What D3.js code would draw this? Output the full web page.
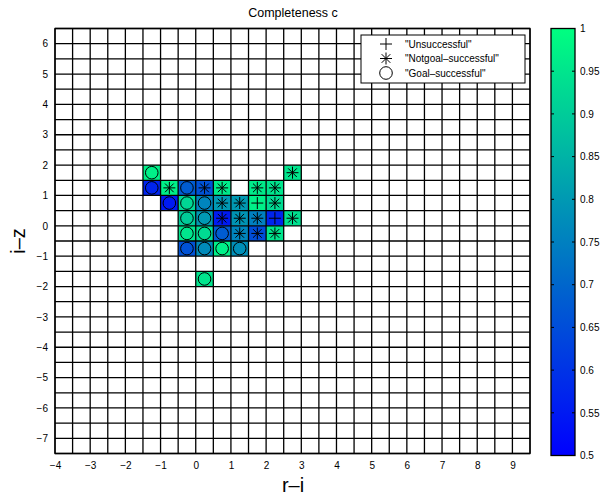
<!DOCTYPE html>
<html>
<head>
<meta charset="utf-8">
<script src="https://cdn.jsdelivr.net/npm/d3@7"></script>
<style>
body{margin:0;background:#fff;}
text{font-family:"Liberation Sans",Arial,Helvetica,sans-serif;}
</style>
</head>
<body>
<svg id="chart" width="613" height="499"></svg>
<script>
// ---- data ----
const cellX = [-1.25, 2.75,
  -1.25, -0.75, -0.25, 0.25, 0.75, 1.75, 2.25,
  -0.75, -0.25, 0.25, 0.75, 1.25, 1.75, 2.25,
  -0.25, 0.25, 0.75, 1.25, 1.75, 2.25, 2.75,
  -0.25, 0.25, 0.75, 1.25, 1.75, 2.25,
  -0.25, 0.25, 0.75, 1.25,
  0.25];
const cellY = [1.75, 1.75,
  1.25, 1.25, 1.25, 1.25, 1.25, 1.25, 1.25,
  0.75, 0.75, 0.75, 0.75, 0.75, 0.75, 0.75,
  0.25, 0.25, 0.25, 0.25, 0.25, 0.25, 0.25,
  -0.25, -0.25, -0.25, -0.25, -0.25, -0.25,
  -0.75, -0.75, -0.75, -0.75,
  -1.75];
const completeness = [0.97, 0.95,
  0.57, 0.97, 0.68, 0.66, 0.96, 0.96, 0.95,
  0.55, 0.92, 0.76, 0.80, 0.80, 0.97, 0.93,
  0.90, 0.80, 0.55, 0.79, 0.75, 0.57, 0.94,
  0.95, 0.93, 0.68, 0.76, 0.65, 0.95,
  0.66, 0.77, 0.97, 0.78,
  0.95];
// U = "Unsuccessful", N = "Notgoal-successful", G = "Goal-successful"
const outcome = ["G", "N",
  "G", "N", "G", "N", "N", "N", "N",
  "G", "G", "G", "N", "N", "U", "N",
  "G", "G", "N", "N", "N", "U", "N",
  "G", "G", "G", "N", "N", "N",
  "G", "G", "G", "G",
  "G"];
const legendLabels = ['"Unsuccessful"', '"Notgoal\u2013successful"', '"Goal\u2013successful"'];
const legendKeys = ["U", "N", "G"];
const xTicks = [-4, -3, -2, -1, 0, 1, 2, 3, 4, 5, 6, 7, 8, 9];
const yTicks = [-7, -6, -5, -4, -3, -2, -1, 0, 1, 2, 3, 4, 5, 6];
const cbTicks = [0.5, 0.55, 0.6, 0.65, 0.7, 0.75, 0.8, 0.85, 0.9, 0.95, 1];

// ---- layout ----
const svg = d3.select("#chart");
const L = 55, R = 530, T = 28.5, B = 453.5;
const x = d3.scaleLinear().domain([-4, 9.5]).range([L, R]);
const y = d3.scaleLinear().domain([-7.5, 6.5]).range([B, T]);
const color = d3.scaleLinear().domain([0.5, 1]).range(["rgb(0,0,255)", "rgb(0,255,128)"]).interpolate(d3.interpolateRgb);
const half = 0.25;

// cells
svg.append("g").selectAll("rect").data(cellX).join("rect")
  .attr("x", (d) => x(d - half))
  .attr("y", (d, i) => y(cellY[i] + half))
  .attr("width", (d) => x(d + half) - x(d - half))
  .attr("height", (d, i) => y(cellY[i] - half) - y(cellY[i] + half))
  .attr("fill", (d, i) => color(completeness[i]));

// grid lines
const gx = d3.range(-4, 9.5001, 0.5), gy = d3.range(-7.5, 6.5001, 0.5);
const grid = svg.append("g").attr("stroke", "#000").attr("stroke-width", 1.3);
grid.selectAll("line.v").data(gx).join("line").attr("class", "v")
  .attr("x1", (d) => x(d)).attr("x2", (d) => x(d)).attr("y1", T).attr("y2", B);
grid.selectAll("line.h").data(gy).join("line").attr("class", "h")
  .attr("y1", (d) => y(d)).attr("y2", (d) => y(d)).attr("x1", L).attr("x2", R);

// markers
function drawMarker(g, type, cx, cy) {
  if (type === "G") {
    g.append("circle").attr("cx", cx).attr("cy", cy).attr("r", 6.3)
      .attr("fill", "none").attr("stroke", "#000").attr("stroke-width", 1);
  } else {
    const s = 6;
    g.append("line").attr("x1", cx - s).attr("x2", cx + s).attr("y1", cy).attr("y2", cy);
    g.append("line").attr("x1", cx).attr("x2", cx).attr("y1", cy - s).attr("y2", cy + s);
    if (type === "N") {
      const d = s * 0.72;
      g.append("line").attr("x1", cx - d).attr("x2", cx + d).attr("y1", cy - d).attr("y2", cy + d);
      g.append("line").attr("x1", cx - d).attr("x2", cx + d).attr("y1", cy + d).attr("y2", cy - d);
    }
  }
}
const mk = svg.append("g").attr("stroke", "#000").attr("stroke-width", 1);
cellX.forEach((d, i) => drawMarker(mk, outcome[i], x(d), y(cellY[i])));

// axes
const xAxis = svg.append("g").attr("transform", `translate(0,${B})`)
  .call(d3.axisBottom(x).tickValues(xTicks).tickSize(0).tickPadding(8).tickFormat((d) => d3.format("")(d).replace("-", "\u2212")));
const yAxis = svg.append("g").attr("transform", `translate(${L},0)`)
  .call(d3.axisLeft(y).tickValues(yTicks).tickSize(0).tickPadding(7).tickFormat((d) => d3.format("")(d).replace("-", "\u2212")));
[xAxis, yAxis].forEach((a) => {
  a.select(".domain").remove();
  a.selectAll("text").attr("font-size", 10).attr("fill", "#000")
    .style("font-family", '"Liberation Sans",Arial,sans-serif');
});
svg.append("rect").attr("x", L).attr("y", T).attr("width", R - L).attr("height", B - T)
  .attr("fill", "none").attr("stroke", "#000").attr("stroke-width", 1.3);

// titles
svg.append("text").attr("x", 293).attr("y", 17).attr("text-anchor", "middle")
  .attr("font-size", 12.5).text("Completeness c");
svg.append("text").attr("x", 293).attr("y", 492).attr("text-anchor", "middle")
  .attr("font-size", 20).text("r\u2013i");
svg.append("text").attr("transform", "translate(25,241) rotate(-90)").attr("text-anchor", "middle")
  .attr("font-size", 20).text("i\u2013z");

// legend
const lg = svg.append("g");
lg.append("rect").attr("x", 361).attr("y", 35).attr("width", 164).attr("height", 48)
  .attr("fill", "#fff").attr("stroke", "#000").attr("stroke-width", 1);
const lgm = lg.append("g").attr("stroke", "#000").attr("stroke-width", 1);
legendKeys.forEach((k, i) => {
  const ly = 44 + i * 14.5;
  drawMarker(lgm, k, 386, ly);
  lg.append("text").attr("x", 405).attr("y", ly + 3.5).attr("font-size", 10).text(legendLabels[i]);
});

// colorbar
const cbL = 551, cbR = 575, cbT = 28.5, cbB = 455.5;
const cy = d3.scaleLinear().domain([0.5, 1]).range([cbB, cbT]);
const defs = svg.append("defs");
const grad = defs.append("linearGradient").attr("id", "cbg").attr("x1", 0).attr("y1", 1).attr("x2", 0).attr("y2", 0);
grad.selectAll("stop").data(d3.range(0, 1.0001, 0.1)).join("stop")
  .attr("offset", (d) => d).attr("stop-color", (d) => color(0.5 + d * 0.5));
svg.append("rect").attr("x", cbL).attr("y", cbT).attr("width", cbR - cbL).attr("height", cbB - cbT)
  .attr("fill", "url(#cbg)");
const cbAxis = svg.append("g").attr("transform", `translate(${cbR},0)`)
  .call(d3.axisRight(cy).tickValues(cbTicks).tickSize(0).tickPadding(5).tickFormat((d) => String(+d.toFixed(2))));
cbAxis.select(".domain").remove();
cbAxis.selectAll("text").attr("font-size", 10).attr("fill", "#000")
  .style("font-family", '"Liberation Sans",Arial,sans-serif');
svg.append("g").selectAll("line").data(cbTicks.slice(1, -1)).join("line")
  .attr("x1", cbL).attr("x2", cbL + 3).attr("y1", (d) => cy(d)).attr("y2", (d) => cy(d))
  .attr("stroke", "#000");
svg.append("g").selectAll("line").data(cbTicks.slice(1, -1)).join("line")
  .attr("x1", cbR - 3).attr("x2", cbR).attr("y1", (d) => cy(d)).attr("y2", (d) => cy(d))
  .attr("stroke", "#000");
svg.append("rect").attr("x", cbL).attr("y", cbT).attr("width", cbR - cbL).attr("height", cbB - cbT)
  .attr("fill", "none").attr("stroke", "#000").attr("stroke-width", 1.3);
</script>
</body>
</html>
